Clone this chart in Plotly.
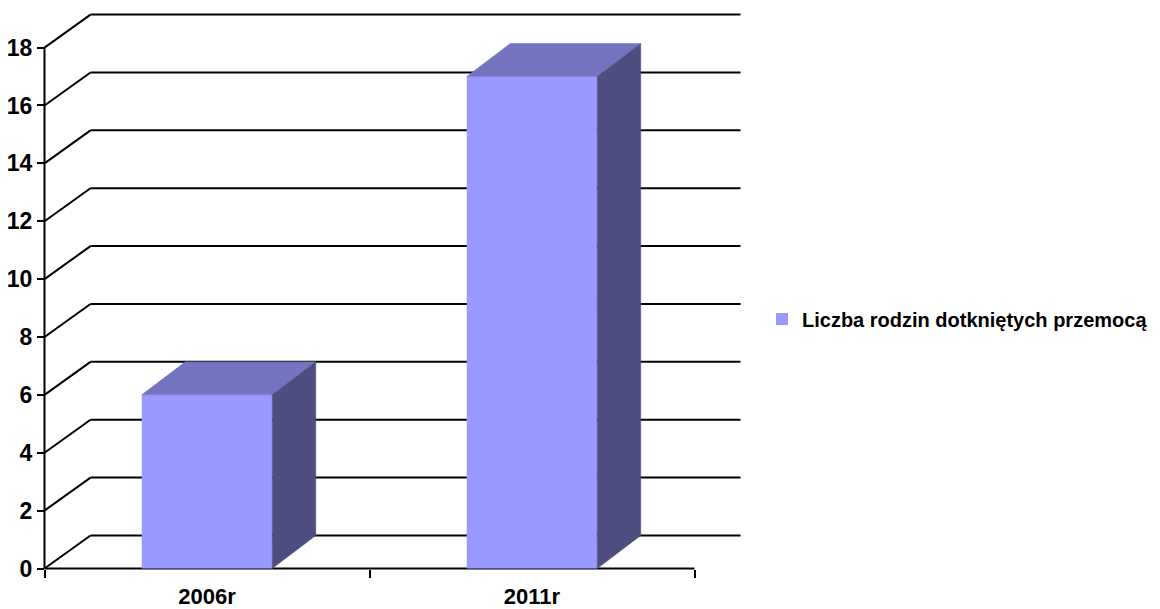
import plotly.graph_objects as go

# ---- data ----
categories = ["2006r", "2011r"]
values = [6, 17]
series_name = "Liczba rodzin dotkniętych przemocą"
y_ticks = [0, 2, 4, 6, 8, 10, 12, 14, 16, 18]

# ---- styling / geometry (pixels -> axis units) ----
OFF = 8                 # browser default body margin
W, H = 1160 - OFF, 609 - OFF
PX_CAT = 325.0          # pixels per category
PX_VAL = 28.94          # pixels per value unit
X0_PX = 207.0 - OFF     # pixel of category 0 centre (front plane)
Y0_PX = 568.5 - OFF     # pixel of value 0 (front plane)
L, R, T, B = 30 - OFF, 752 - OFF, 8 - OFF, 578 - OFF   # plot area in pixels
AXIS_X_PX = 44 - OFF

WALL_DX = 46 / PX_CAT
WALL_DY = 33 / PX_VAL
BAR_DX = 43.5 / PX_CAT
BAR_DY = 33 / PX_VAL
BAR_W = 130.5 / PX_CAT

FRONT = "#9999FF"
TOP = "#7373BF"
SIDE = "#4D4D80"
FONT = "Liberation Sans, Arial, sans-serif"

x_range = [(L - X0_PX) / PX_CAT, (R - X0_PX) / PX_CAT]
y_range = [(Y0_PX - B) / PX_VAL, (Y0_PX - T) / PX_VAL]
n = len(categories)
x_left = -0.5
x_right = n - 0.5

fig = go.Figure()

# front faces
fig.add_trace(go.Bar(
    x=list(range(n)), y=values, width=BAR_W, name=series_name,
    marker=dict(color=FRONT, line=dict(width=0)), hoverinfo="y",
))

# top and side faces
for i, v in enumerate(values):
    a = i - BAR_W / 2
    b = i + BAR_W / 2
    fig.add_trace(go.Scatter(
        x=[a, b, b + BAR_DX, a + BAR_DX, a],
        y=[v, v, v + BAR_DY, v + BAR_DY, v],
        fill="toself", fillcolor=TOP, mode="lines",
        line=dict(color=TOP, width=0.5), showlegend=False, hoverinfo="skip",
    ))
    fig.add_trace(go.Scatter(
        x=[b, b + BAR_DX, b + BAR_DX, b, b],
        y=[0, BAR_DY, v + BAR_DY, v, 0],
        fill="toself", fillcolor=SIDE, mode="lines",
        line=dict(color=SIDE, width=0.5), showlegend=False, hoverinfo="skip",
    ))

# grid lines (slanted side wall + back wall) and front axis lines
shapes = []
line_style = dict(color="black", width=2)
for v in y_ticks:
    shapes.append(dict(type="line", xref="x", yref="y", layer="below",
                       x0=x_left, y0=v, x1=x_left + WALL_DX, y1=v + WALL_DY,
                       line=line_style))
    shapes.append(dict(type="line", xref="x", yref="y", layer="below",
                       x0=x_left + WALL_DX, y0=v + WALL_DY,
                       x1=x_right + WALL_DX, y1=v + WALL_DY,
                       line=line_style))
shapes.append(dict(type="line", xref="x", yref="y", layer="below",
                   x0=x_left, y0=0, x1=x_left, y1=max(y_ticks), line=line_style))
shapes.append(dict(type="line", xref="x", yref="y", layer="below",
                   x0=x_left, y0=0, x1=x_right, y1=0, line=line_style))

fig.update_layout(
    width=W, height=H,
    margin=dict(l=L, r=W - R, t=T, b=H - B, autoexpand=False),
    paper_bgcolor="white", plot_bgcolor="white",
    shapes=shapes,
    showlegend=True,
    legend=dict(
        xref="container", yref="container",
        x=(762 - OFF) / W, y=1 - (319 - OFF) / H, xanchor="left", yanchor="middle",
        font=dict(family=FONT, size=20, color="black", weight="bold"),
        bgcolor="rgba(0,0,0,0)",
    ),
    xaxis=dict(
        range=x_range, anchor="free", position=(B - Y0_PX) / (B - T),
        automargin=False,
        showgrid=False, zeroline=False, showline=False,
        tickmode="array", tickvals=list(range(n)), ticktext=categories,
        ticks="", ticklabelstandoff=12,
        tickfont=dict(family=FONT, size=22, color="black", weight="bold"),
        minor=dict(tickmode="array",
                   tickvals=[i - 0.5 for i in range(n + 1)],
                   ticks="outside", ticklen=8, tickwidth=2, tickcolor="black",
                   showgrid=False),
    ),
    yaxis=dict(
        range=y_range, anchor="free", position=(AXIS_X_PX - L) / (R - L),
        automargin=False,
        showgrid=False, zeroline=False, showline=False,
        tickmode="array", tickvals=y_ticks,
        ticks="outside", ticklen=7, tickwidth=2, tickcolor="black",
        tickfont=dict(family=FONT, size=23, color="black", weight="bold"),
    ),
)

fig.write_html("out.html")
